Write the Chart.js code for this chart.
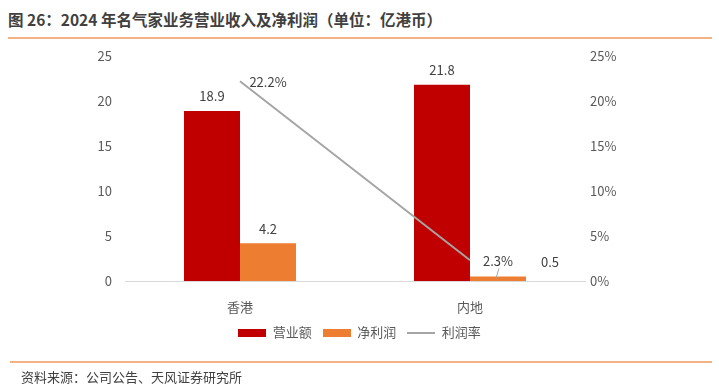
<!DOCTYPE html>
<html>
<head>
<meta charset="utf-8">
<script src="https://cdn.jsdelivr.net/npm/chart.js@4.4.1/dist/chart.umd.min.js"></script>
<style>
  body { margin: 0; background: #fff; font-family: "Noto Sans CJK SC", sans-serif; }
  #wrap { position: relative; width: 719px; height: 387px; }
  #title { position: absolute; left: 8px; top: 8px; font-size: 15.5px; font-weight: bold; color: #404040; }
  #topline { position: absolute; left: 8px; right: 7px; top: 37px; height: 2px; background: #f4b183; }
  #botline { position: absolute; left: 10px; right: 7px; top: 361px; height: 2px; background: #f4b183; }
  #source { position: absolute; left: 21px; top: 367px; font-size: 13px; color: #404040; }
  canvas { position: absolute; left: 0; top: 0; }
</style>
</head>
<body>
<div id="wrap">
  <div id="title">图 26：2024 年名气家业务营业收入及净利润（单位：亿港币）</div>
  <div id="topline"></div>
  <canvas id="chart" width="719" height="387"></canvas>
  <div id="botline"></div>
  <div id="source">资料来源：公司公告、天风证券研究所</div>
</div>
<script>
// Chart data
var categories = ["香港", "内地"];
var revenue = [18.9, 21.8];      // 营业额
var netProfit = [4.2, 0.5];      // 净利润
var profitRate = [22.2, 2.3];    // 利润率 (%)

var leftTicks = [0, 5, 10, 15, 20, 25];
var rightTicks = [0, 5, 10, 15, 20, 25];

var tickFont = { family: "Noto Sans CJK SC", size: 13 };

// legend swatches
function swatch(w, h, color) {
    var c = document.createElement("canvas");
    c.width = w; c.height = h;
    var g = c.getContext("2d");
    g.fillStyle = color;
    g.fillRect(0, 0, w, h);
    return c;
}
var legendStyles = [swatch(28, 8, "#c00000"), swatch(28, 8, "#ed7d31"), swatch(28, 2, "#a5a5a5")];

// value labels
var labelPlugin = {
    id: "valueLabels",
    afterDatasetsDraw: function(chart) {
        var ctx = chart.ctx;
        ctx.save();
        ctx.font = "13px 'Noto Sans CJK SC'";
        ctx.fillStyle = "#404040";
        ctx.textAlign = "center";
        chart.data.datasets.forEach(function(ds, i) {
            var meta = chart.getDatasetMeta(i);
            meta.data.forEach(function(el, j) {
                if (ds.type === "line") {
                    ctx.textBaseline = "middle";
                    ctx.fillText(ds.data[j].toFixed(1) + "%", el.x + 28, el.y + 1);
                    if (j === 1) {
                        ctx.strokeStyle = "#a5a5a5";
                        ctx.lineWidth = 1;
                        ctx.beginPath();
                        ctx.moveTo(el.x + 29, el.y + 8);
                        ctx.lineTo(el.x + 26, el.y + 18);
                        ctx.stroke();
                    }
                } else {
                    ctx.textBaseline = "bottom";
                    // small value sits beside the bar, as in the source
                    var dx = (i === 1 && j === 1) ? 52 : 0;
                    ctx.fillText(ds.data[j].toFixed(1), el.x + dx, el.y - 8);
                }
            });
        });
        ctx.restore();
    }
};

var ctx = document.getElementById("chart");

var chartData = {
    labels: categories,
    datasets: [{
        type: "bar",
        label: "营业额",
        data: revenue,
        backgroundColor: "#c00000",
        yAxisID: "y",
        order: 2
    }, {
        type: "bar",
        label: "净利润",
        data: netProfit,
        backgroundColor: "#ed7d31",
        yAxisID: "y",
        order: 2
    }, {
        type: "line",
        label: "利润率",
        data: profitRate,
        borderColor: "#a5a5a5",
        borderWidth: 2,
        pointRadius: 0,
        yAxisID: "y1",
        order: 1
    }]
};

var chartOptions = {
    responsive: false,
    animation: false,
    layout: { padding: { top: 56, bottom: 38 } },
    datasets: { bar: { categoryPercentage: 0.487, barPercentage: 1 } },
    plugins: {
        tooltip: { enabled: false },
        legend: {
            position: "bottom",
            labels: {
                usePointStyle: true,
                pointStyleWidth: 28,
                boxHeight: 8,
                padding: 11,
                color: "#595959",
                font: tickFont,
                sort: function(a, b) { return a.datasetIndex - b.datasetIndex; },
                generateLabels: function(chart) {
                    var items = Chart.defaults.plugins.legend.labels.generateLabels(chart);
                    items.forEach(function(it) { it.pointStyle = legendStyles[it.datasetIndex]; });
                    return items;
                }
            }
        }
    },
    scales: {
        x: {
            grid: { display: false, drawTicks: false },
            border: { color: "#d9d9d9" },
            ticks: { color: "#595959", font: tickFont, padding: 18 },
            afterFit: function(s) { s.height = 34; }
        },
        y: {
            position: "left",
            min: 0, max: 25,
            afterBuildTicks: function(s) { s.ticks = leftTicks.map(function(v) { return { value: v }; }); },
            grid: { display: false, drawTicks: false },
            border: { display: false },
            ticks: { color: "#595959", font: tickFont, padding: 13 },
            afterFit: function(s) { s.width = 125; }
        },
        y1: {
            position: "right",
            min: 0, max: 25,
            afterBuildTicks: function(s) { s.ticks = rightTicks.map(function(v) { return { value: v }; }); },
            grid: { display: false, drawTicks: false },
            border: { display: false },
            ticks: { color: "#595959", font: tickFont, padding: 5, callback: function(v) { return v + "%"; } },
            afterFit: function(s) { s.width = 134; }
        }
    }
};

new Chart(ctx, {
    type: "bar",
    data: chartData,
    options: chartOptions,
    plugins: [labelPlugin]
});
</script>
</body>
</html>
